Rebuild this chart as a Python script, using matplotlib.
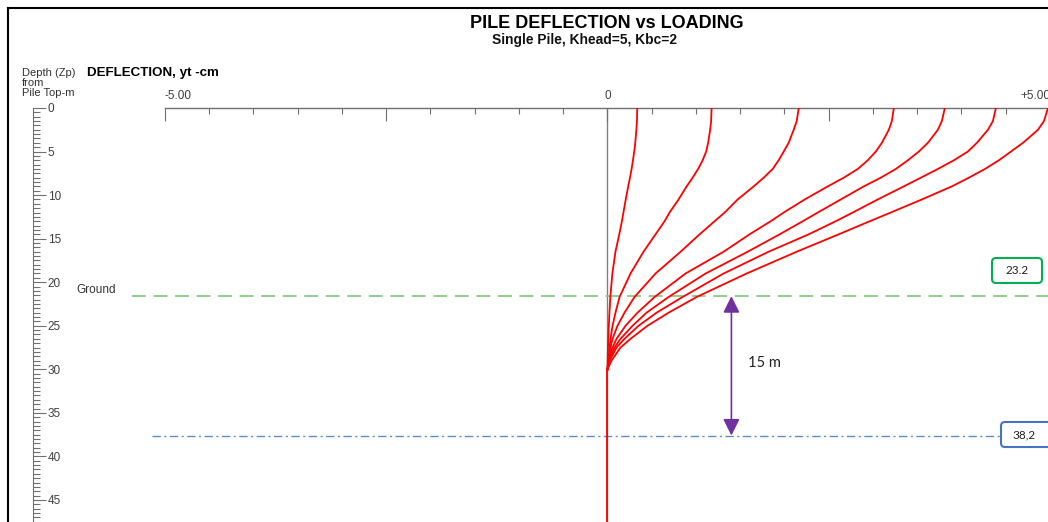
"""
Pile deflection vs loading chart (single pile, Khead=5, Kbc=2)
"""
import matplotlib
matplotlib.use("Agg")
import matplotlib.pyplot as plt
import matplotlib.transforms as mtransforms
from matplotlib.patches import FancyBboxPatch
from matplotlib.ticker import MultipleLocator

plt.rcParams['font.family'] = ['Liberation Sans', 'DejaVu Sans']
plt.rcParams['lines.scale_dashes'] = False

# depth below pile top (m) where deflections were read
depths = [0, 1.5, 2.5, 4, 5, 6, 7, 8, 9, 10.5, 12, 13, 14.5, 16.5, 19,
          21.7, 23.5, 25, 26.5, 27.5, 29, 30]

# deflection yt (cm), one list per load case
deflection_1 = [0.336, 0.333, 0.326, 0.314, 0.302, 0.288, 0.272, 0.254, 0.234, 0.206, 0.180,
                0.163, 0.133, 0.090, 0.055, 0.032, 0.022, 0.015, 0.009, 0.005, 0.002, 0.0]
deflection_2 = [1.176, 1.171, 1.160, 1.137, 1.115, 1.075, 1.024, 0.962, 0.894, 0.803, 0.701,
                0.645, 0.543, 0.407, 0.260, 0.136, 0.090, 0.057, 0.034, 0.023, 0.011, 0.0]
deflection_3 = [2.161, 2.138, 2.104, 2.047, 1.991, 1.934, 1.867, 1.765, 1.652, 1.471, 1.324,
                1.210, 1.041, 0.826, 0.543, 0.305, 0.192, 0.113, 0.057, 0.034, 0.011, 0.0]
deflection_4 = [3.235, 3.213, 3.179, 3.100, 3.032, 2.941, 2.828, 2.670, 2.489, 2.229, 1.991,
                1.844, 1.606, 1.312, 0.882, 0.532, 0.339, 0.204, 0.102, 0.057, 0.011, 0.0]
deflection_5 = [3.812, 3.778, 3.733, 3.620, 3.518, 3.394, 3.258, 3.088, 2.896, 2.636, 2.376,
                2.206, 1.946, 1.584, 1.109, 0.690, 0.441, 0.283, 0.147, 0.079, 0.023, 0.0]
deflection_6 = [4.389, 4.355, 4.299, 4.174, 4.072, 3.914, 3.733, 3.541, 3.348, 3.054, 2.771,
                2.579, 2.274, 1.821, 1.312, 0.848, 0.554, 0.351, 0.192, 0.102, 0.023, 0.0]
deflection_7 = [4.977, 4.932, 4.864, 4.695, 4.559, 4.423, 4.265, 4.084, 3.891, 3.552, 3.201,
                2.964, 2.613, 2.138, 1.572, 1.007, 0.690, 0.452, 0.260, 0.147, 0.045, 0.0]
load_cases = [deflection_1, deflection_2, deflection_3, deflection_4,
              deflection_5, deflection_6, deflection_7]

# below this the pile does not move, down to the pile tip
fixity_depth = 30
pile_tip_depth = 48

x_tick_values = [-5, -2.5, 0, 2.5, 5]
x_tick_labels = ['-5.00', '', '0', '', '+5.00']

ground_depth = 21.6
ground_label = '23.2'
bottom_depth = 37.6
bottom_label = '38,2'
span_label = '15 m'
arrow_x = 1.40

W, H = 1048, 522
fig = plt.figure(figsize=(W / 100, H / 100), dpi=100)

# main plot area: x from -5 (px 165) to +5 (px 1050), depth 0 at px 108
ax = fig.add_axes([165 / W, 0, 885 / W, 414 / H])
ax.set_xlim(-5, 5)
ax.set_ylim(47.53, 0)
ax.patch.set_alpha(0)
for side in ['left', 'right', 'bottom']:
    ax.spines[side].set_visible(False)
ax.spines['top'].set_color('#707070')
ax.spines['top'].set_linewidth(1)
ax.xaxis.set_ticks_position('top')
ax.set_xticks(x_tick_values, x_tick_labels)
ax.xaxis.set_minor_locator(MultipleLocator(0.5))
ax.tick_params(axis='x', which='major', direction='in', length=9, width=0.8,
               color='#707070', labelsize=8.5, labelcolor='#404040', pad=4)
ax.tick_params(axis='x', which='minor', direction='in', length=4.5, width=0.8,
               color='#707070')
ax.set_yticks([])
tick_text = ax.get_xticklabels()
tick_text[0].set_horizontalalignment('left')
tick_text[-1].set_horizontalalignment('right')

ax.axvline(0, color='#808080', lw=1, zorder=1)
for case in load_cases:
    ax.plot(case, depths, color='#ff0000', lw=1.3, zorder=3)
ax.plot([0, 0], [fixity_depth, pile_tip_depth], color='#ff0000', lw=1.3, zorder=3)

# ground and lower reference lines span past the plot area
blend = mtransforms.blended_transform_factory(fig.transFigure, ax.transData)
ax.plot([132 / W, 1.0], [ground_depth, ground_depth], transform=blend,
        color='#86cc82', lw=1.3, dashes=(10, 5.5), clip_on=False)
ax.plot([152 / W, 1000 / W], [bottom_depth, bottom_depth], transform=blend,
        color='#5b8fc7', lw=1, dashes=(6, 2.5, 1.5, 2.5), clip_on=False)

ax.annotate('', xy=(arrow_x, ground_depth), xytext=(arrow_x, bottom_depth),
            arrowprops=dict(arrowstyle='<|-|>', color='#7030a0', lw=1.2,
                            mutation_scale=25, shrinkA=0, shrinkB=0))
ax.text(arrow_x + 0.19, 29.3, span_label, family=['Lato', 'DejaVu Sans'],
        fontsize=10.5, color='#222222', va='center', ha='left')

# depth ruler on the left
ruler = fig.add_axes([0, 0, 33 / W, 414 / H])
ruler.set_ylim(47.53, 0)
ruler.patch.set_alpha(0)
for side in ['left', 'top', 'bottom']:
    ruler.spines[side].set_visible(False)
ruler.spines['right'].set_color('#707070')
ruler.set_xticks([])
ruler.yaxis.tick_right()
ruler.yaxis.set_major_locator(MultipleLocator(5))
ruler.yaxis.set_minor_locator(MultipleLocator(0.5))
ruler.tick_params(axis='y', which='major', direction='out', length=9, width=0.8,
                  color='#707070', labelsize=8.5, labelcolor='#404040', pad=1.5)
ruler.tick_params(axis='y', which='minor', direction='out', length=5, width=0.8,
                  color='#707070')

# overlay in pixel space for frame, titles and label boxes
over = fig.add_axes([0, 0, 1, 1], zorder=5)
over.set_xlim(0, W)
over.set_ylim(H, 0)
over.axis('off')
over.patch.set_alpha(0)
over.plot([8, W], [8, 8], color='black', lw=1.5)
over.plot([8, 8], [8, H], color='black', lw=1.5)

over.text(607, 23, 'PILE DEFLECTION vs LOADING', fontsize=13, fontweight='bold',
          ha='center', va='center', color='black')
over.text(585, 40, 'Single Pile, Khead=5, Kbc=2', fontsize=9.9, fontweight='bold',
          ha='center', va='center', color='#111111')
over.text(22, 76, 'Depth (Zp)', fontsize=8, ha='left', va='baseline', color='#333333')
over.text(22, 85.5, 'from', fontsize=8, ha='left', va='baseline', color='#333333')
over.text(22, 95.5, 'Pile Top-m', fontsize=8, ha='left', va='baseline', color='#333333')
over.text(87, 76, 'DEFLECTION, yt -cm', fontsize=9.6, fontweight='bold',
          ha='left', va='baseline', color='black')
over.text(76, 290, 'Ground', fontsize=8.5, ha='left', va='center', color='#333333')

over.add_patch(FancyBboxPatch((992, 258), 50, 25, boxstyle='round,pad=0,rounding_size=4',
                              fc='white', ec='#00b050', lw=1.5))
over.text(1017, 270.5, ground_label, family=['Lato', 'DejaVu Sans'], fontsize=8.5,
          ha='center', va='center', color='#222222')
over.add_patch(FancyBboxPatch((1001, 422), 52, 25, boxstyle='round,pad=0,rounding_size=4',
                              fc='white', ec='#4472c4', lw=1.5, clip_on=False))
over.text(1024, 434.5, bottom_label, family=['Lato', 'DejaVu Sans'], fontsize=8.5,
          ha='center', va='center', color='#222222')

fig.savefig('out.png', dpi=100)
